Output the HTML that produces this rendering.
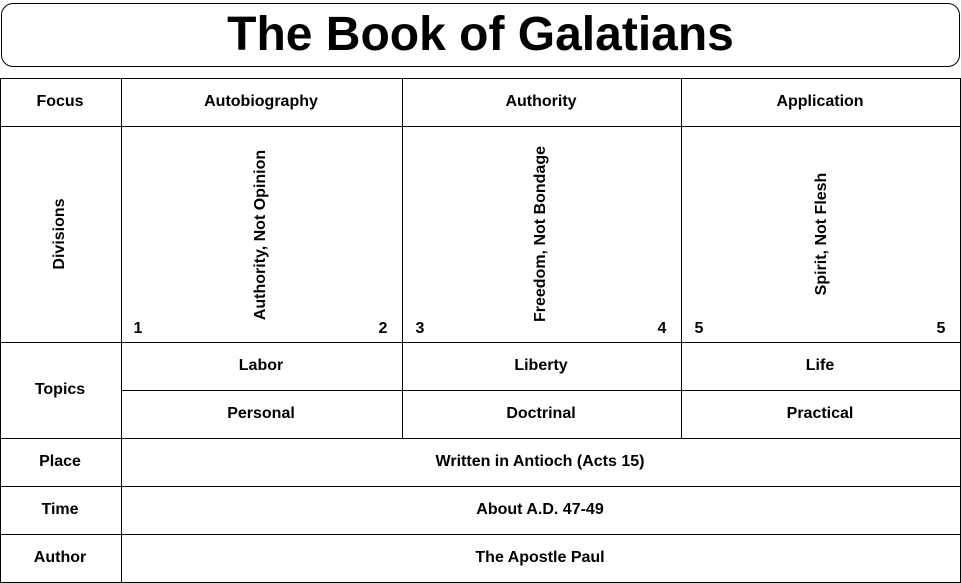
<!DOCTYPE html>
<html><head><style>
body{margin:0;width:961px;height:583px;background:#fff;position:relative;font-family:"Liberation Sans",Arial,sans-serif;overflow:hidden}
.t{position:absolute;left:1px;top:3px;width:957px;height:62px;border:1px solid #000;border-radius:12px;font-weight:bold;font-size:48px;text-align:center;line-height:62px}
.h{position:absolute;height:1px;background:#000}
.v{position:absolute;width:1px;background:#000}
.c{position:absolute;font-weight:bold;font-size:16px;text-align:center;transform:translate(-50%,-50%);white-space:nowrap}
.r{position:absolute;font-weight:bold;font-size:16px;white-space:nowrap;transform:translate(-50%,-50%) rotate(-90deg)}
</style></head><body>
<div class="t">The Book of Galatians</div>
<div class="h" style="left:0;width:961px;top:78px"></div>
<div class="h" style="left:0;width:961px;top:126px"></div>
<div class="h" style="left:0;width:961px;top:342px"></div>
<div class="h" style="left:121px;width:840px;top:390px"></div>
<div class="h" style="left:0;width:961px;top:438px"></div>
<div class="h" style="left:0;width:961px;top:486px"></div>
<div class="h" style="left:0;width:961px;top:534px"></div>
<div class="h" style="left:0;width:961px;top:582px"></div>
<div class="v" style="left:0;top:78px;height:505px"></div>
<div class="v" style="left:960px;top:78px;height:505px"></div>
<div class="v" style="left:121px;top:78px;height:505px"></div>
<div class="v" style="left:402px;top:78px;height:361px"></div>
<div class="v" style="left:681px;top:78px;height:361px"></div>
<div class="c" style="left:60px;top:102px">Focus</div>
<div class="c" style="left:261px;top:102px">Autobiography</div>
<div class="c" style="left:541px;top:102px">Authority</div>
<div class="c" style="left:820px;top:102px">Application</div>
<div class="r" style="left:60px;top:234px">Divisions</div>
<div class="r" style="left:261px;top:235px">Authority, Not Opinion</div>
<div class="r" style="left:541px;top:234px">Freedom, Not Bondage</div>
<div class="r" style="left:822px;top:234px">Spirit, Not Flesh</div>
<div class="c" style="left:138px;top:329px">1</div>
<div class="c" style="left:383px;top:329px">2</div>
<div class="c" style="left:420px;top:329px">3</div>
<div class="c" style="left:662px;top:329px">4</div>
<div class="c" style="left:699px;top:329px">5</div>
<div class="c" style="left:941px;top:329px">5</div>
<div class="c" style="left:60px;top:390px">Topics</div>
<div class="c" style="left:261px;top:366px">Labor</div>
<div class="c" style="left:541px;top:366px">Liberty</div>
<div class="c" style="left:820px;top:366px">Life</div>
<div class="c" style="left:261px;top:414px">Personal</div>
<div class="c" style="left:541px;top:414px">Doctrinal</div>
<div class="c" style="left:820px;top:414px">Practical</div>
<div class="c" style="left:60px;top:462px">Place</div>
<div class="c" style="left:540px;top:462px">Written in Antioch (Acts 15)</div>
<div class="c" style="left:60px;top:510px">Time</div>
<div class="c" style="left:540px;top:510px">About A.D. 47-49</div>
<div class="c" style="left:60px;top:558px">Author</div>
<div class="c" style="left:540px;top:558px">The Apostle Paul</div>
</body></html>
